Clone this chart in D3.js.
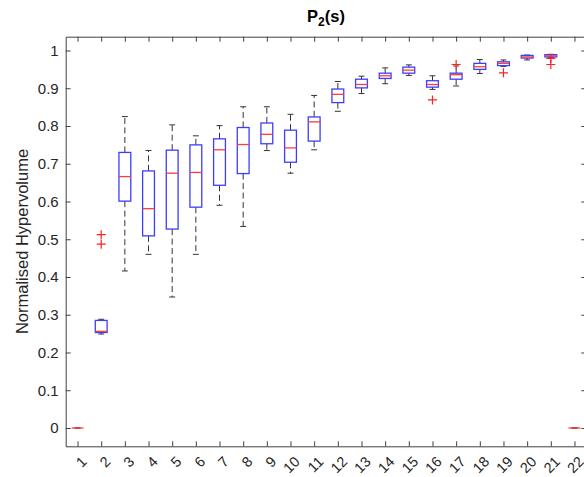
<!DOCTYPE html>
<html>
<head>
<meta charset="utf-8">
<script src="https://cdn.jsdelivr.net/npm/d3@7"></script>
<style>
  html, body { margin: 0; padding: 0; background: #fff; overflow: hidden; }
  svg { display: block; font-family: "Liberation Sans", Arial, Helvetica, sans-serif; }
</style>
</head>
<body>
<svg id="chart" width="584" height="477"></svg>
<script>
// Group labels along the x axis
const groups = d3.range(1, 23);
// Five-number summaries per group (lower whisker, Q1, median, Q3, upper whisker)
const whiskerLow  = [0, 0.249, 0.416, 0.460, 0.347, 0.460, 0.590, 0.534, 0.735, 0.675, 0.737, 0.839, 0.886, 0.912, 0.934, 0.897, 0.906, 0.939, 0.958, 0.975, 0.982, 0];
const q1          = [0, 0.253, 0.601, 0.509, 0.527, 0.585, 0.643, 0.674, 0.753, 0.704, 0.760, 0.862, 0.901, 0.926, 0.940, 0.903, 0.924, 0.950, 0.960, 0.980, 0.983, 0];
const medians     = [0, 0.256, 0.666, 0.581, 0.675, 0.677, 0.737, 0.751, 0.778, 0.742, 0.811, 0.884, 0.910, 0.933, 0.948, 0.910, 0.936, 0.957, 0.966, 0.983, 0.986, 0];
const q3          = [0, 0.285, 0.730, 0.681, 0.736, 0.750, 0.766, 0.796, 0.808, 0.789, 0.824, 0.898, 0.924, 0.940, 0.956, 0.920, 0.940, 0.966, 0.970, 0.987, 0.989, 0];
const whiskerHigh = [0, 0.288, 0.825, 0.735, 0.803, 0.774, 0.801, 0.851, 0.851, 0.831, 0.881, 0.918, 0.932, 0.954, 0.962, 0.933, 0.959, 0.976, 0.975, 0.988, 0.990, 0];
// Outlier points as [group, value]
const outliers = [[2, 0.487], [2, 0.512], [16, 0.869], [17, 0.963], [19, 0.941], [21, 0.979], [21, 0.963]];
// Y tick values
const yTicks = d3.range(0, 11).map(d => d / 10);

const svg = d3.select("#chart");
const plotLeft = 65.7, plotRight = 586.3, plotTop = 36.7, plotBottom = 446.3;
const axisColor = "#404040";
const textColor = "#262626";

const x = d3.scaleLinear().domain([0.5, 22.5]).range([plotLeft, plotRight]);
const y = d3.scaleLinear().domain([-0.0485, 1.0366]).range([plotBottom, plotTop]);

const halfBox = x(1.25) - x(1);    // box half-width = 0.25 units
const halfCap = x(1.125) - x(1);   // cap half-width

// Axes: bottom/left with labels, top/right ticks only (boxed axes, ticks inside)
const tickLen = 5;
const xAxisB = d3.axisBottom(x).tickValues(groups).tickSizeInner(-tickLen).tickSizeOuter(0).tickFormat("");
const xAxisT = d3.axisTop(x).tickValues(groups).tickSizeInner(-tickLen).tickSizeOuter(0).tickFormat("");
const yAxisL = d3.axisLeft(y).tickValues(yTicks).tickSizeInner(-tickLen).tickSizeOuter(0).tickPadding(7).tickFormat(d3.format("~g"));
const yAxisR = d3.axisRight(y).tickValues(yTicks).tickSizeInner(-tickLen).tickSizeOuter(0).tickFormat("");

function styleAxis(g) {
  g.select(".domain").attr("stroke", axisColor).attr("stroke-width", 1);
  g.selectAll(".tick line").attr("stroke", axisColor).attr("stroke-width", 1);
  g.selectAll(".tick text").attr("fill", textColor).style("font-size", "15px")
    .style("font-family", '"Liberation Sans", Arial, sans-serif');
}

svg.append("g").attr("transform", `translate(0,${plotBottom})`).call(xAxisB).call(styleAxis);
svg.append("g").attr("transform", `translate(0,${plotTop})`).call(xAxisT).call(styleAxis);
svg.append("g").attr("transform", `translate(${plotLeft},0)`).call(yAxisL).call(styleAxis);
svg.append("g").attr("transform", `translate(${plotRight},0)`).call(yAxisR).call(styleAxis);

// Rotated x tick labels
svg.append("g").selectAll("text").data(groups).join("text")
  .attr("transform", d => `translate(${x(d) + 3},${plotBottom + 9}) rotate(-45)`)
  .attr("text-anchor", "end")
  .attr("dy", "0.71em")
  .attr("fill", textColor)
  .style("font-size", "14.5px")
  .text(d => d);

// Box plots
const boxes = svg.append("g");
groups.forEach((g, i) => {
  const cx = x(g);
  const grp = boxes.append("g");
  // whiskers
  grp.append("line").attr("x1", cx).attr("x2", cx).attr("y1", y(q3[i])).attr("y2", y(whiskerHigh[i]))
    .attr("stroke", "#333").attr("stroke-width", 1).attr("stroke-dasharray", "6,3.5");
  grp.append("line").attr("x1", cx).attr("x2", cx).attr("y1", y(q1[i])).attr("y2", y(whiskerLow[i]))
    .attr("stroke", "#333").attr("stroke-width", 1).attr("stroke-dasharray", "6,3.5");
  // caps
  [whiskerHigh[i], whiskerLow[i]].forEach(v => {
    grp.append("line").attr("x1", cx - halfCap).attr("x2", cx + halfCap).attr("y1", y(v)).attr("y2", y(v))
      .attr("stroke", "#333").attr("stroke-width", 1);
  });
  // box
  grp.append("rect").attr("x", cx - halfBox).attr("width", 2 * halfBox)
    .attr("y", y(q3[i])).attr("height", Math.max(0, y(q1[i]) - y(q3[i])))
    .attr("fill", "none").attr("stroke", "#3d3dff").attr("stroke-width", 1.3);
  // median
  grp.append("line").attr("x1", cx - halfBox).attr("x2", cx + halfBox)
    .attr("y1", y(medians[i])).attr("y2", y(medians[i]))
    .attr("stroke", "#ff3b3b").attr("stroke-width", 1.3);
});

// Outliers as red plus signs
const ps = 4.5;
svg.append("g").selectAll("path").data(outliers).join("path")
  .attr("d", d => {
    const px = x(d[0]), py = y(d[1]);
    return `M${px - ps},${py}H${px + ps}M${px},${py - ps}V${py + ps}`;
  })
  .attr("stroke", "#ff2020").attr("stroke-width", 1.2).attr("fill", "none");

// Title with subscript
const title = svg.append("text")
  .attr("x", (plotLeft + plotRight) / 2).attr("y", 22)
  .attr("text-anchor", "middle").attr("fill", "#000")
  .style("font-size", "16.5px").style("font-weight", "bold");
title.append("tspan").text("P");
title.append("tspan").attr("dy", 4).style("font-size", "12px").text("2");
title.append("tspan").attr("dy", -4).text("(s)");

// Y axis label
svg.append("text")
  .attr("transform", `translate(28,${(plotTop + plotBottom) / 2}) rotate(-90)`)
  .attr("text-anchor", "middle").attr("fill", textColor)
  .style("font-size", "16.5px")
  .text("Normalised Hypervolume");
</script>
</body>
</html>
